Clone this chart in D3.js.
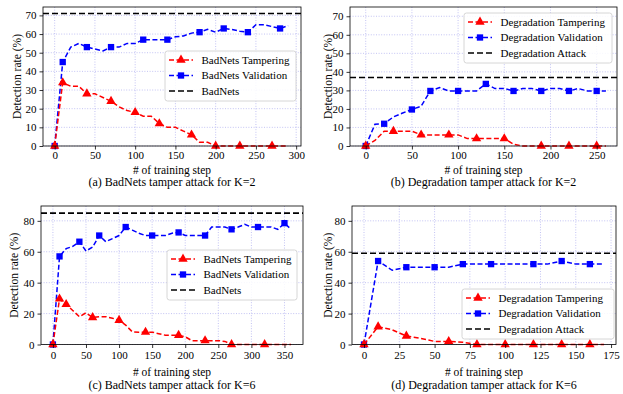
<!DOCTYPE html>
<html>
<head>
<meta charset="utf-8">
<script src="https://cdn.jsdelivr.net/npm/d3@7"></script>
<style>
  body { margin: 0; background: #fff; }
  svg text { font-family: 'Liberation Serif', 'Times New Roman', Tinos, 'DejaVu Serif', serif !important; fill: #000; }
</style>
</head>
<body>
<div id="my_dataviz"></div>
<script>
// ---- (a) BadNets, K=2 ----
var stepsA  = [0,10,20,30,40,50,60,70,80,90,100,110,120,130,140,150,160,170,180,190,200,210,220,230,240,250,260,270,280,290];
var tamperA = [0,34,32,32,28,28,26,24,21,19,18,16,16,12,10,10,8,6,2,2,0,0,0,0,0,0,0,0,0,0];
var validA  = [0,45,53,55,53,52,51,53,53,55,55,57,57,57,57,58.5,59,60.5,61,62.5,61,63,62.5,61.5,61,65,65,64,63,64.5];
var attackA = 71;
var markTamperA = [0,10,40,70,100,130,170,200,230,270];
var markValidA  = [0,10,40,70,110,140,180,210,240,280];

// ---- (b) Degradation, K=2 ----
var stepsB  = [0,10,20,30,40,50,60,70,80,90,100,110,120,130,140,150,160,170,180,190,200,210,220,230,240,250,260];
var tamperB = [0,3,8,8,8,8,6,6,6,6,6,4,4,4,4,4,1,0,0,0,0,0,0,0,0,0,0];
var validB  = [0,11.7,12,15.7,17.8,19.7,21.5,29.7,31.5,29.7,29.7,29.7,29.7,33.5,31,31,29.7,31,31,29.7,31,31,29.7,31,29.7,29.7,29.7];
var attackB = 37;
var markTamperB = [0,30,60,90,120,150,190,220,250];
var markValidB  = [0,20,50,70,100,130,160,190,220,250];

// ---- (c) BadNets, K=6 ----
var stepsC  = [0,10,20,30,40,50,60,70,80,90,100,110,120,130,140,150,160,170,180,190,200,210,220,230,240,250,260,270,280,290,300,310,320,330,340,350,360];
var tamperC = [0,29.5,26,22,18,20.5,17.5,18,18,17,15.7,12.5,8.2,8,8,8,7,6,6,6,5,2.5,2.5,2.5,2.5,2.5,2,0,0,0,0,0,0,0,0,0,0];
var validC  = [0,57,62,63.5,66.5,60.5,63,70.5,66.5,68.5,70.5,76,74,72,70.5,70.5,70.5,70.5,72,72.5,70.5,70.5,70.5,70.5,76,76,76,74.5,76,77.7,76,76,76,76,74.5,78.5,74.5];
var attackC = 85;
var markTamperC = [0,10,20,60,100,140,190,230,270,320];
var markValidC  = [0,10,40,70,110,150,190,230,270,310,350];

// ---- (d) Degradation, K=6 ----
var stepsD  = [0,10,20,30,40,50,60,70,80,90,100,110,120,130,140,150,160,170];
var tamperD = [0,11.5,9.5,5.5,4,2,2,1.5,0,0,0,0,0,0,0,0,0,0];
var validD  = [0,54,48,50,50,50,50,52,52,52,52,52,52,52,54,52,52,52];
var attackD = 59;
var markTamperD = [0,10,30,60,80,100,120,140,160];
var markValidD  = [0,10,30,50,70,90,120,140,160];

// tick labels
var xTicksA = [0,50,100,150,200,250,300];
var xTicksB = [0,50,100,150,200,250];
var xTicksC = [0,50,100,150,200,250,300,350];
var xTicksD = [0,25,50,75,100,125,150,175];
var yTicksTop = [0,10,20,30,40,50,60,70];
var yTicksBottom = [0,20,40,60,80];

var FONT = "'Liberation Serif', 'Times New Roman', Tinos, 'DejaVu Serif', serif";

var svg = d3.select("#my_dataviz")
  .append("svg")
    .attr("width", 623)
    .attr("height", 394)
    .style("font-family", FONT);

var RED = "#ff0000", BLUE = "#0000ff";

function drawPanel(p) {
  var x = d3.scaleLinear().domain(p.xDomain).range([p.left, p.right]);
  var y = d3.scaleLinear().domain(p.yDomain).range([p.bottom, p.top]);
  var g = svg.append("g");

  // grid
  g.selectAll(".gx").data(p.xTicks).enter().append("line")
    .attr("x1", function(d) { return x(d); }).attr("x2", function(d) { return x(d); })
    .attr("y1", p.top).attr("y2", p.bottom)
    .attr("stroke", "#b4b4f0").attr("stroke-width", 0.8).attr("stroke-dasharray", "1,1.6");
  g.selectAll(".gy").data(p.yTicks).enter().append("line")
    .attr("x1", p.left).attr("x2", p.right)
    .attr("y1", function(d) { return y(d); }).attr("y2", function(d) { return y(d); })
    .attr("stroke", "#b4b4f0").attr("stroke-width", 0.8).attr("stroke-dasharray", "1,1.6");

  // attack level
  g.append("line")
    .attr("x1", p.left).attr("x2", p.right)
    .attr("y1", y(p.attack)).attr("y2", y(p.attack))
    .attr("stroke", "#000").attr("stroke-width", 1.6).attr("stroke-dasharray", "6,3");

  var line = d3.line()
    .x(function(d) { return x(d[0]); })
    .y(function(d) { return y(d[1]); });

  var series = [
    {vals: p.valid, marks: p.markValid, color: BLUE, sym: d3.symbolSquare, size: 40},
    {vals: p.tamper, marks: p.markTamper, color: RED, sym: d3.symbolTriangle, size: 38}
  ];
  series.forEach(function(s) {
    var pts = p.steps.map(function(st, i) { return [st, s.vals[i]]; });
    g.append("path")
      .datum(pts)
      .attr("fill", "none")
      .attr("stroke", s.color)
      .attr("stroke-width", 1.5)
      .attr("stroke-dasharray", "5,2.5")
      .attr("d", line);
    g.selectAll(null)
      .data(pts.filter(function(d) { return s.marks.indexOf(d[0]) >= 0; }))
      .enter().append("path")
      .attr("d", d3.symbol().type(s.sym).size(s.size))
      .attr("transform", function(d) { return "translate(" + x(d[0]) + "," + y(d[1]) + ")"; })
      .attr("fill", s.color);
  });

  // axes
  var ax = g.append("g")
    .attr("transform", "translate(0," + p.bottom + ")")
    .call(d3.axisBottom(x).tickValues(p.xTicks).tickSize(3.5).tickPadding(p.xPad).tickFormat(d3.format("d")));
  var ay = g.append("g")
    .attr("transform", "translate(" + p.left + ",0)")
    .call(d3.axisLeft(y).tickValues(p.yTicks).tickSize(3.5).tickPadding(3).tickFormat(d3.format("d")));
  [ax, ay].forEach(function(a) {
    a.select(".domain").remove();
    a.attr("font-family", FONT).attr("font-size", 11);
    a.selectAll("text").attr("font-family", FONT).style("font-size", "11px");
    a.selectAll("line").attr("stroke", "#000").attr("stroke-width", 0.8);
  });

  // frame
  g.append("rect")
    .attr("x", p.left).attr("y", p.top)
    .attr("width", p.right - p.left).attr("height", p.bottom - p.top)
    .attr("fill", "none").attr("stroke", "#000").attr("stroke-width", 0.8);

  // labels
  g.append("text")
    .attr("transform", "translate(" + p.yLabelX + "," + ((p.top + p.bottom) / 2) + ") rotate(-90)")
    .attr("text-anchor", "middle")
    .attr("dy", "0.35em")
    .attr("font-family", FONT)
    .style("font-size", "11.5px")
    .text("Detection rate (%)");
  g.append("text")
    .attr("x", (p.left + p.right) / 2)
    .attr("y", p.xLabelY)
    .attr("text-anchor", "middle")
    .attr("font-family", FONT)
    .style("font-size", "11.5px")
    .text("# of training step");
  g.append("text")
    .attr("x", (p.left + p.right) / 2)
    .attr("y", p.captionY)
    .attr("text-anchor", "middle")
    .attr("font-family", FONT)
    .style("font-size", "12px")
    .text(p.caption);

  // legend
  var L = p.legend;
  var lg = g.append("g");
  lg.append("rect")
    .attr("x", L.x).attr("y", L.y).attr("width", L.w).attr("height", L.h)
    .attr("rx", 2.5)
    .attr("fill", "#fff").attr("fill-opacity", 0.85)
    .attr("stroke", "#cccccc").attr("stroke-width", 0.8);
  var entries = [
    {label: p.names[0], color: RED, sym: d3.symbolTriangle, size: 38},
    {label: p.names[1], color: BLUE, sym: d3.symbolSquare, size: 40},
    {label: p.names[2], color: "#000", sym: null}
  ];
  entries.forEach(function(e, i) {
    var cy = L.y + 9 + i * 15.5;
    lg.append("line")
      .attr("x1", L.x + 4).attr("x2", L.x + 28)
      .attr("y1", cy).attr("y2", cy)
      .attr("stroke", e.color).attr("stroke-width", 1.5)
      .attr("stroke-dasharray", e.sym ? "5,2.5" : "6,3");
    if (e.sym) {
      lg.append("path")
        .attr("d", d3.symbol().type(e.sym).size(e.size))
        .attr("transform", "translate(" + (L.x + 16) + "," + cy + ")")
        .attr("fill", e.color);
    }
    lg.append("text")
      .attr("x", L.x + 36.5)
      .attr("y", cy)
      .attr("dy", "0.35em")
      .attr("font-family", FONT)
      .style("font-size", "11px")
      .text(e.label);
  });
}

drawPanel({
  left: 43, right: 301, top: 7, bottom: 146,
  xDomain: [-14.5, 306], yDomain: [0, 74.5],
  xTicks: xTicksA, yTicks: yTicksTop, xPad: 2,
  steps: stepsA, tamper: tamperA, valid: validA, attack: attackA,
  markTamper: markTamperA, markValid: markValidA,
  yLabelX: 17, xLabelY: 174, captionY: 185.5,
  caption: "(a) BadNets tamper attack for K=2",
  names: ["BadNets Tampering", "BadNets Validation", "BadNets"],
  legend: {x: 165, y: 51, w: 131, h: 50}
});

drawPanel({
  left: 350, right: 617, top: 7, bottom: 146,
  xDomain: [-17, 272], yDomain: [0, 75],
  xTicks: xTicksB, yTicks: yTicksTop, xPad: 2,
  steps: stepsB, tamper: tamperB, valid: validB, attack: attackB,
  markTamper: markTamperB, markValid: markValidB,
  yLabelX: 328, xLabelY: 174, captionY: 185.5,
  caption: "(b) Degradation tamper attack for K=2",
  names: ["Degradation Tampering", "Degradation Validation", "Degradation Attack"],
  legend: {x: 464, y: 13, w: 148, h: 50}
});

drawPanel({
  left: 41, right: 303, top: 206, bottom: 344.5,
  xDomain: [-18, 378], yDomain: [0, 89.6],
  xTicks: xTicksC, yTicks: yTicksBottom, xPad: 3,
  steps: stepsC, tamper: tamperC, valid: validC, attack: attackC,
  markTamper: markTamperC, markValid: markValidC,
  yLabelX: 14, xLabelY: 376, captionY: 388.5,
  caption: "(c) BadNets tamper attack for K=6",
  names: ["BadNets Tampering", "BadNets Validation", "BadNets"],
  legend: {x: 167, y: 250, w: 130, h: 50}
});

drawPanel({
  left: 352, right: 616, top: 206, bottom: 344.5,
  xDomain: [-8.5, 178.5], yDomain: [0, 89.6],
  xTicks: xTicksD, yTicks: yTicksBottom, xPad: 3,
  steps: stepsD, tamper: tamperD, valid: validD, attack: attackD,
  markTamper: markTamperD, markValid: markValidD,
  yLabelX: 328, xLabelY: 376, captionY: 388.5,
  caption: "(d) Degradation tamper attack for K=6",
  names: ["Degradation Tampering", "Degradation Validation", "Degradation Attack"],
  legend: {x: 462, y: 289, w: 152, h: 50}
});
</script>
</body>
</html>
